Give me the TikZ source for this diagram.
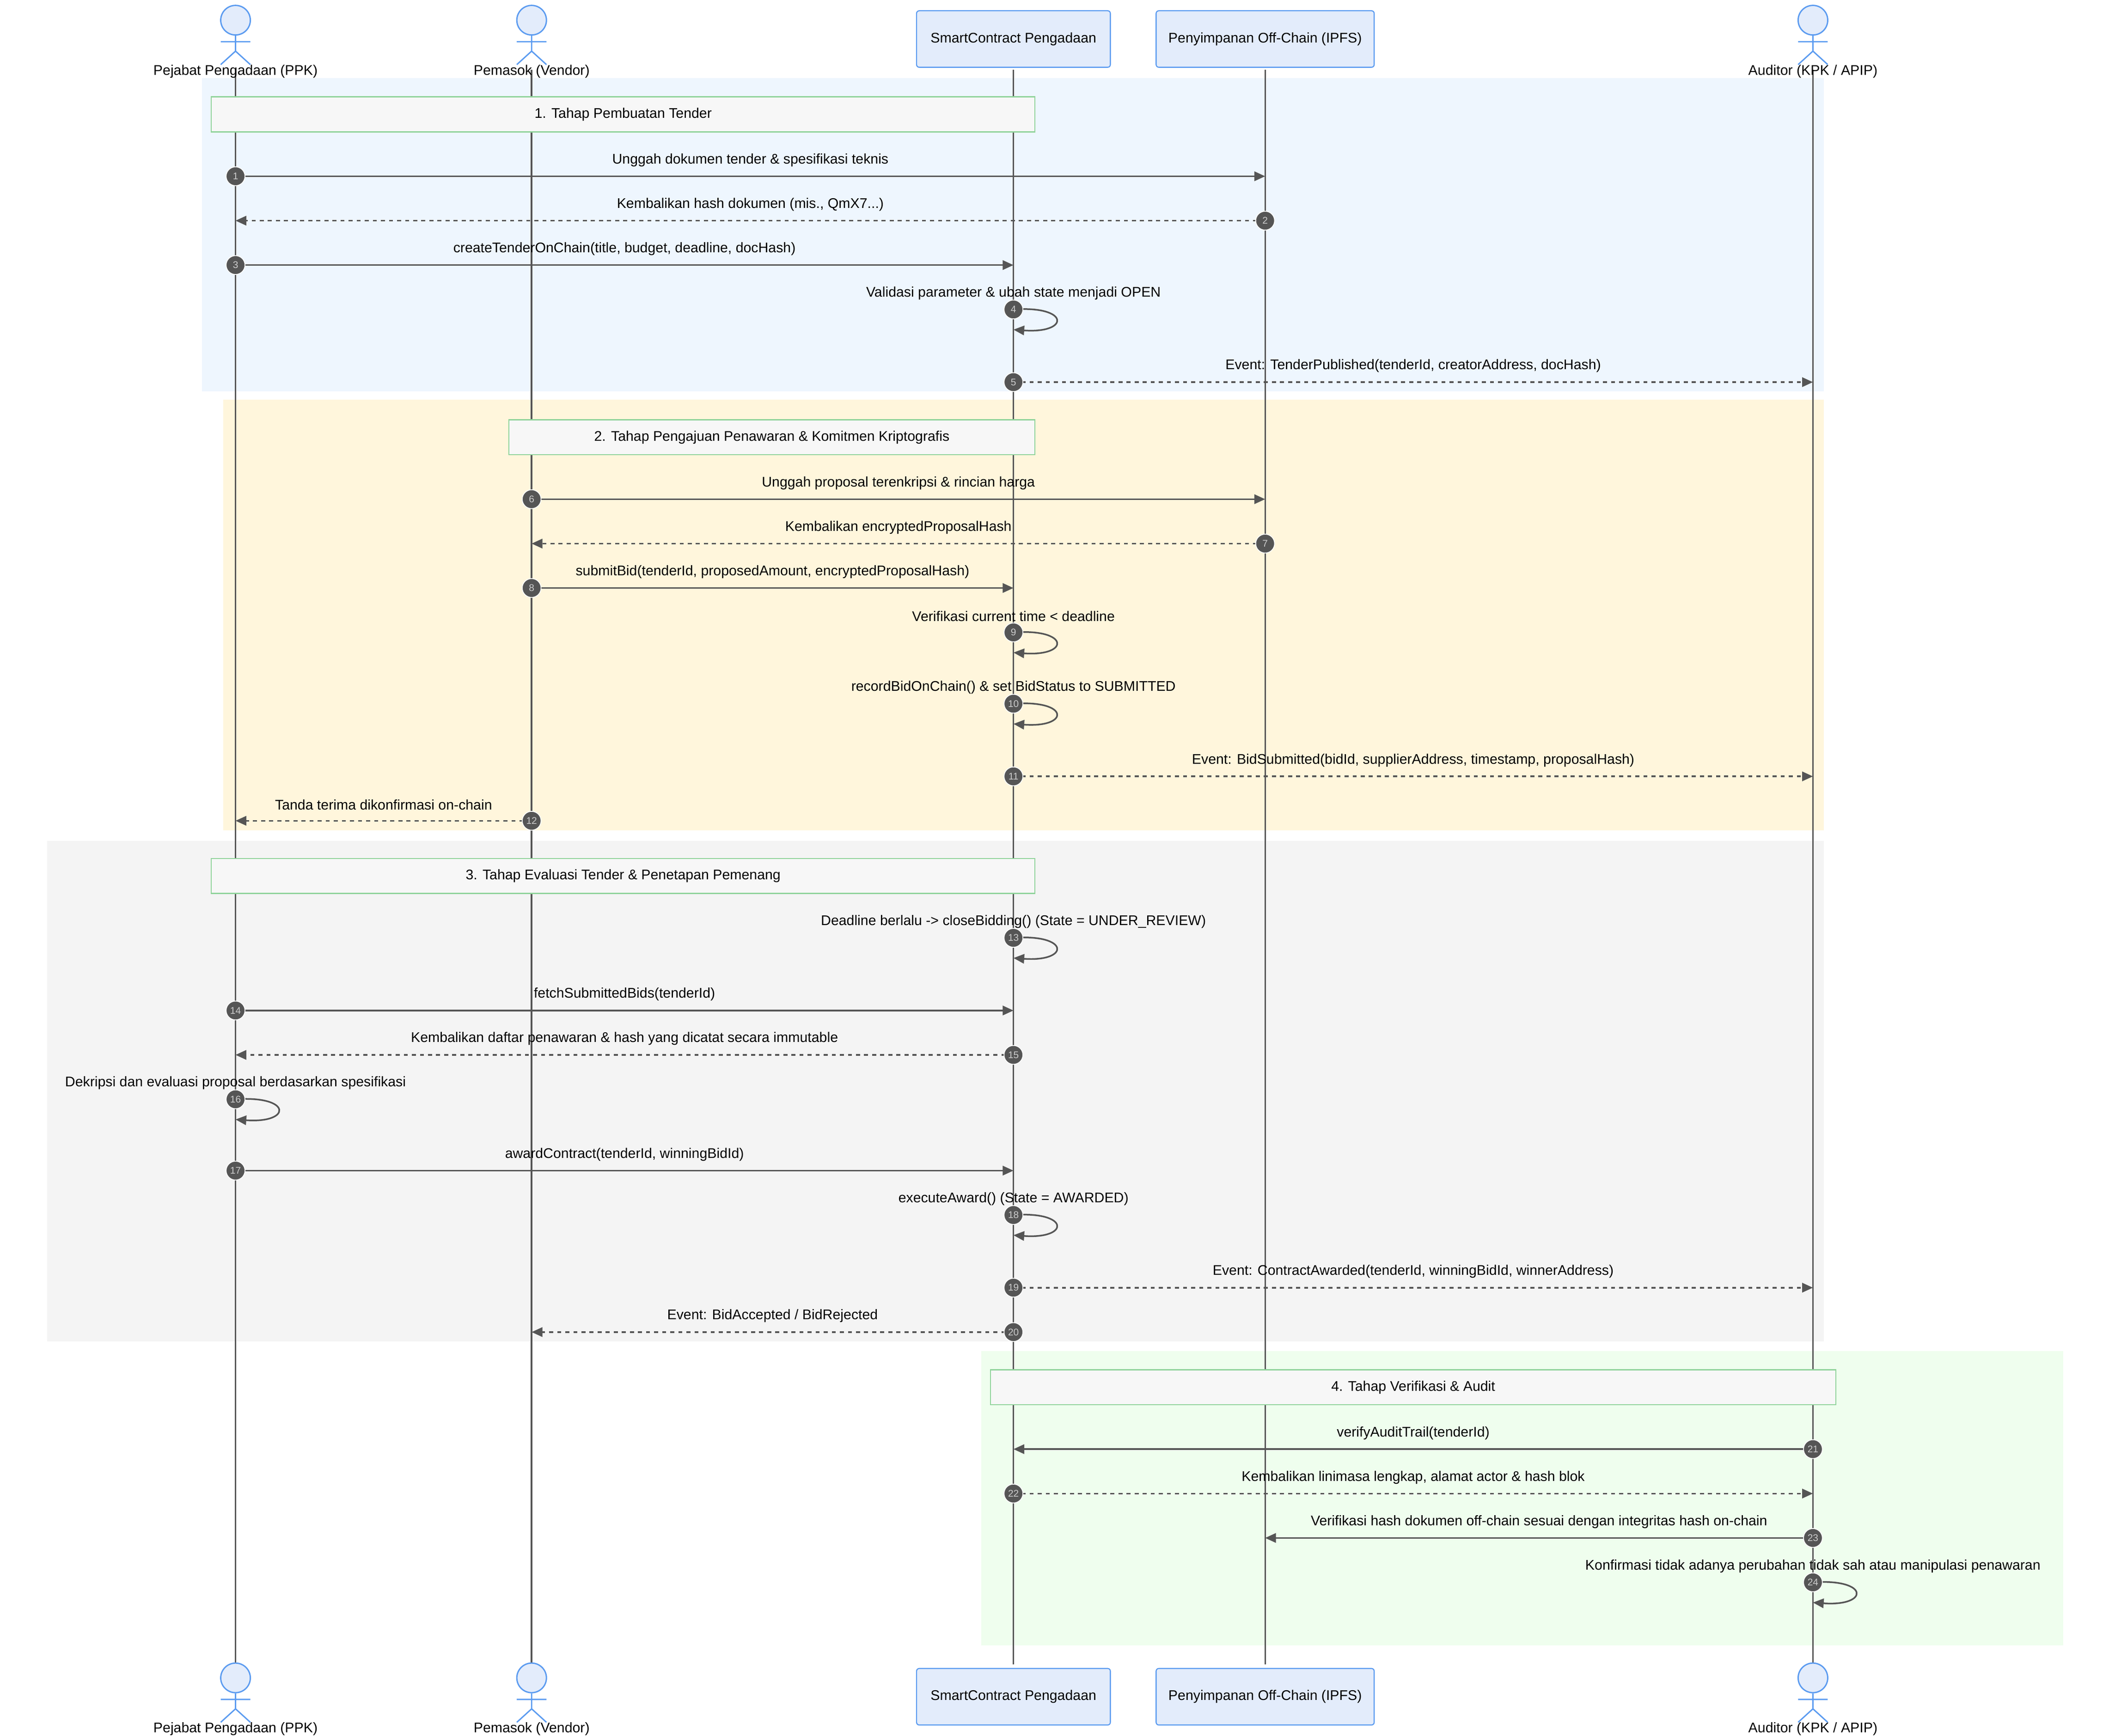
\documentclass[tikz,border=0pt]{standalone}
\usepackage{fontspec}
\setmainfont{Liberation Sans}
\usetikzlibrary{arrows.meta}
\definecolor{ln}{HTML}{555555}
\definecolor{actb}{HTML}{5B9BF0}
\definecolor{actf}{HTML}{E3ECFB}
\definecolor{rblue}{HTML}{EEF6FE}
\definecolor{ryel}{HTML}{FFF6DC}
\definecolor{rgrey}{HTML}{F4F4F4}
\definecolor{rgreen}{HTML}{EFFEEE}
\definecolor{noteb}{HTML}{8FD39A}
\begin{document}
\begin{tikzpicture}[x=0.5pt,y=-0.5pt,
  txt/.style={font=\fontsize{5.2}{6}\selectfont,text=black,inner sep=0pt},
  box/.style={draw=actb,fill=actf,rounded corners=1pt,line width=0.4pt,font=\fontsize{5.2}{6}\selectfont,align=center},
  note/.style={draw=noteb,fill=black!3,line width=0.4pt,font=\fontsize{5.2}{6}\selectfont},
  life/.style={draw=ln,line width=0.6pt},
  msg/.style={draw=ln,line width=0.6pt,-{Triangle[length=4pt,width=3.5pt]}},
  dmsg/.style={msg,dash pattern=on 1.5pt off 1.5pt},
  num/.style={circle,fill=ln,draw=white,line width=0.3pt,minimum size=7pt,inner sep=0pt,text=white!80!black,font=\fontsize{3.6}{4}\selectfont}]
\useasboundingbox (0,0) rectangle (1567,1290);
% regions
\fill[rblue] (150,58) rectangle (1355,291);
\fill[ryel] (166,297) rectangle (1355,617);
\fill[rgrey] (35,625) rectangle (1355,997);
\fill[rgreen] (729,1004) rectangle (1533,1223);
% lifelines
\foreach \n/\x in {ppk/175,ven/395,sc/753,ipfs/940,aud/1347}{
  \coordinate (\n T) at (\x,52); \coordinate (\n B) at (\x,1237);
  \draw[life] (\n T) -- (\n B);}
% actors
\foreach \n/\x/\l in {ppk/175/{Pejabat Pengadaan (PPK)},ven/395/{Pemasok (Vendor)},aud/1347/{Auditor (KPK / APIP)}}{
 \foreach \y/\s in {0/t,1232/b}{
  \begin{scope}[shift={(0,\y)}]
  \node[circle,draw=actb,fill=actf,line width=0.5pt,minimum size=11pt,inner sep=0pt] (\n\s c) at (\x,15) {};
  \draw[actb,line width=0.5pt] (\n\s c.south) -- (\x,38) (\x-11,31) -- (\x+11,31) (\x-11,48) -- (\x,38) -- (\x+11,48);
  \node[txt] (\n\s l) at (\x,53) {\l};
  \end{scope}}}
\foreach \s/\y in {t/29,b/1261}{
 \node[box,minimum width=72pt,minimum height=21pt] (sc\s) at (753,\y) {SmartContract Pengadaan};
 \node[box,minimum width=81pt,minimum height=21pt] (ipfs\s) at (940,\y) {Penyimpanan Off-Chain (IPFS)};}
% notes
\node[note,minimum width=306pt,minimum height=13pt] (n1) at (463,85) {1. Tahap Pembuatan Tender};
\node[note,minimum width=195.5pt,minimum height=13pt] (n2) at (573.5,325) {2. Tahap Pengajuan Penawaran \& Komitmen Kriptografis};
\node[note,minimum width=306pt,minimum height=13pt] (n3) at (463,651) {3. Tahap Evaluasi Tender \& Penetapan Pemenang};
\node[note,minimum width=314pt,minimum height=13pt] (n4) at (1050,1031) {4. Tahap Verifikasi \& Audit};
% messages
\newcommand{\mymsg}[6]{%
  \coordinate (m#1a) at (#3,#2); \coordinate (m#1b) at (#4,#2);
  \draw[#5] (m#1a) -- (m#1b);
  \node[txt] (m#1l) at ({(#3+#4)/2},#2-12) {#6};
  \node[num] (m#1n) at (m#1a) {#1};}
\newcommand{\myself}[4]{%
  \coordinate (s#1a) at (#3,#2); \coordinate (s#1b) at (#3,#2+15);
  \draw[msg] (s#1a) .. controls (#3+42,#2-3) and (#3+42,#2+18) .. (s#1b);
  \node[txt] (s#1l) at (#3,#2-12) {#4};
  \node[num] (s#1n) at (s#1a) {#1};}
\mymsg{1}{131}{175}{940}{msg}{Unggah dokumen tender \& spesifikasi teknis}
\mymsg{2}{164}{940}{175}{dmsg}{Kembalikan hash dokumen (mis., QmX7...)}
\mymsg{3}{197}{175}{753}{msg}{createTenderOnChain(title, budget, deadline, docHash)}
\myself{4}{230}{753}{Validasi parameter \& ubah state menjadi OPEN}
\mymsg{5}{284}{753}{1347}{dmsg}{Event: TenderPublished(tenderId, creatorAddress, docHash)}
\mymsg{6}{371}{395}{940}{msg}{Unggah proposal terenkripsi \& rincian harga}
\mymsg{7}{404}{940}{395}{dmsg}{Kembalikan encryptedProposalHash}
\mymsg{8}{437}{395}{753}{msg}{submitBid(tenderId, proposedAmount, encryptedProposalHash)}
\myself{9}{470}{753}{Verifikasi current time < deadline}
\myself{10}{523}{753}{recordBidOnChain() \& set BidStatus to SUBMITTED}
\mymsg{11}{577}{753}{1347}{dmsg}{Event: BidSubmitted(bidId, supplierAddress, timestamp, proposalHash)}
\mymsg{12}{610}{395}{175}{dmsg}{Tanda terima dikonfirmasi on-chain}
\myself{13}{697}{753}{Deadline berlalu -> closeBidding() (State = UNDER\_REVIEW)}
\mymsg{14}{751}{175}{753}{msg}{fetchSubmittedBids(tenderId)}
\mymsg{15}{784}{753}{175}{dmsg}{Kembalikan daftar penawaran \& hash yang dicatat secara immutable}
\myself{16}{817}{175}{Dekripsi dan evaluasi proposal berdasarkan spesifikasi}
\mymsg{17}{870}{175}{753}{msg}{awardContract(tenderId, winningBidId)}
\myself{18}{903}{753}{executeAward() (State = AWARDED)}
\mymsg{19}{957}{753}{1347}{dmsg}{Event: ContractAwarded(tenderId, winningBidId, winnerAddress)}
\mymsg{20}{990}{753}{395}{dmsg}{Event: BidAccepted / BidRejected}
\mymsg{21}{1077}{1347}{753}{msg}{verifyAuditTrail(tenderId)}
\mymsg{22}{1110}{753}{1347}{dmsg}{Kembalikan linimasa lengkap, alamat actor \& hash blok}
\mymsg{23}{1143}{1347}{940}{msg}{Verifikasi hash dokumen off-chain sesuai dengan integritas hash on-chain}
\myself{24}{1176}{1347}{Konfirmasi tidak adanya perubahan tidak sah atau manipulasi penawaran}
\end{tikzpicture}
\end{document}
